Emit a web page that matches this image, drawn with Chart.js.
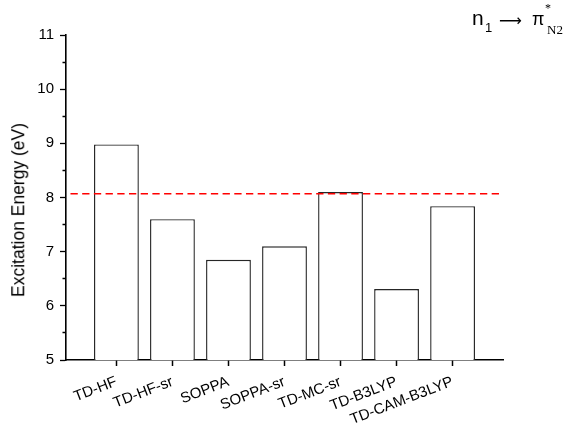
<!DOCTYPE html>
<html>
<head>
<meta charset="utf-8">
<script src="https://cdn.jsdelivr.net/npm/chart.js@4/dist/chart.umd.min.js"></script>
<style>
html,body{margin:0;padding:0;background:#fff;}
#wrap{position:relative;width:566px;height:427px;}
#wrap canvas{position:absolute;left:0;top:0;}
.t{position:absolute;line-height:1;white-space:nowrap;color:#000;}
.sans{font-family:"Liberation Sans",Arial,sans-serif;}
.serif{font-family:"Liberation Serif","Times New Roman",serif;}
#ytitle{position:absolute;left:19px;top:210px;transform:translate(-50%,-50%) rotate(-90deg);font-size:17.5px;line-height:1;}
</style>
</head>
<body>
<div id="wrap">
  <canvas id="c" width="566" height="427"></canvas>
  <div id="ytitle" class="t sans">Excitation Energy (eV)</div>
  <span class="t sans" style="left:472px;top:7px;font-size:21px;">n</span>
  <span class="t sans" style="left:485px;top:21px;font-size:13px;">1</span>
  <span class="t" style="left:499px;top:12.5px;font-size:16px;font-family:'DejaVu Sans',sans-serif;">⟶</span>
  <span class="t sans" style="left:532px;top:10px;font-size:18px;">π</span>
  <span class="t serif" style="left:545px;top:2px;font-size:12px;">*</span>
  <span class="t serif" style="left:547px;top:22.5px;font-size:13px;">N2</span>
</div>
<script>
const categories = ['TD-HF', 'TD-HF-sr', 'SOPPA', 'SOPPA-sr', 'TD-MC-sr', 'TD-B3LYP', 'TD-CAM-B3LYP'];
const categoryPositions = [1, 2, 3, 4, 5, 6, 7];
const energies = [8.98, 7.60, 6.85, 7.10, 8.10, 6.31, 7.84];
const referenceEnergy = 8.07;
const referenceSpan = [0.18, 7.86];
const yTickValues = [5, 5.5, 6, 6.5, 7, 7.5, 8, 8.5, 9, 9.5, 10, 10.5, 11];

const barData = categoryPositions.map((x, i) => ({ x: x, y: energies[i] }));
const refData = referenceSpan.map(x => ({ x: x, y: referenceEnergy }));

new Chart(document.getElementById('c'), {
  data: {
    datasets: [
      {
        type: 'line',
        data: refData,
        borderColor: '#ff0000',
        borderWidth: 1.5,
        borderDash: [7.3, 4.4],
        pointRadius: 0,
        fill: false,
        order: 0
      },
      {
        type: 'bar',
        data: barData,
        backgroundColor: '#ffffff',
        borderColor: '#262626',
        borderWidth: 1.4,
        barPercentage: 0.8,
        categoryPercentage: 1.0,
        order: 1
      }
    ]
  },
  options: {
    responsive: false,
    animation: false,
    devicePixelRatio: 1,
    layout: { padding: { top: 35, right: 63, left: 0, bottom: 0 } },
    plugins: { legend: { display: false }, tooltip: { enabled: false }, title: { display: false } },
    scales: {
      x: {
        type: 'linear',
        min: 0.1,
        max: 7.9,
        offset: false,
        afterBuildTicks: (scale) => { scale.ticks = categoryPositions.map(v => ({ value: v })); },
        afterFit: (scale) => { scale.height = 67; },
        ticks: {
          autoSkip: false,
          minRotation: 21,
          maxRotation: 21,
          padding: 7,
          color: '#000',
          font: { family: 'Liberation Sans, Arial, sans-serif', size: 15 },
          callback: (value, index) => categories[index]
        },
        grid: { offset: false, drawOnChartArea: false, drawTicks: true, tickLength: 6, tickColor: '#000', tickWidth: 1.5 },
        border: { display: true, color: '#000', width: 1.6 }
      },
      y: {
        type: 'linear',
        min: 5,
        max: 11,
        afterBuildTicks: (scale) => { scale.ticks = yTickValues.map(v => ({ value: v })); },
        afterFit: (scale) => { scale.width = 66; },
        ticks: {
          padding: 6,
          color: '#000',
          font: { family: 'Liberation Sans, Arial, sans-serif', size: 15 },
          callback: (value) => (Number.isInteger(value) ? String(value) : '')
        },
        grid: {
          drawOnChartArea: false,
          drawTicks: true,
          tickLength: 6,
          tickColor: '#000',
          tickWidth: 1.3,
          tickBorderDash: (ctx) => (ctx.tick && !Number.isInteger(ctx.tick.value) ? [0, 2.5, 10, 0] : [])
        },
        border: { display: true, color: '#000', width: 1.6 },
        title: { display: false }
      }
    }
  }
});
</script>
</body>
</html>
